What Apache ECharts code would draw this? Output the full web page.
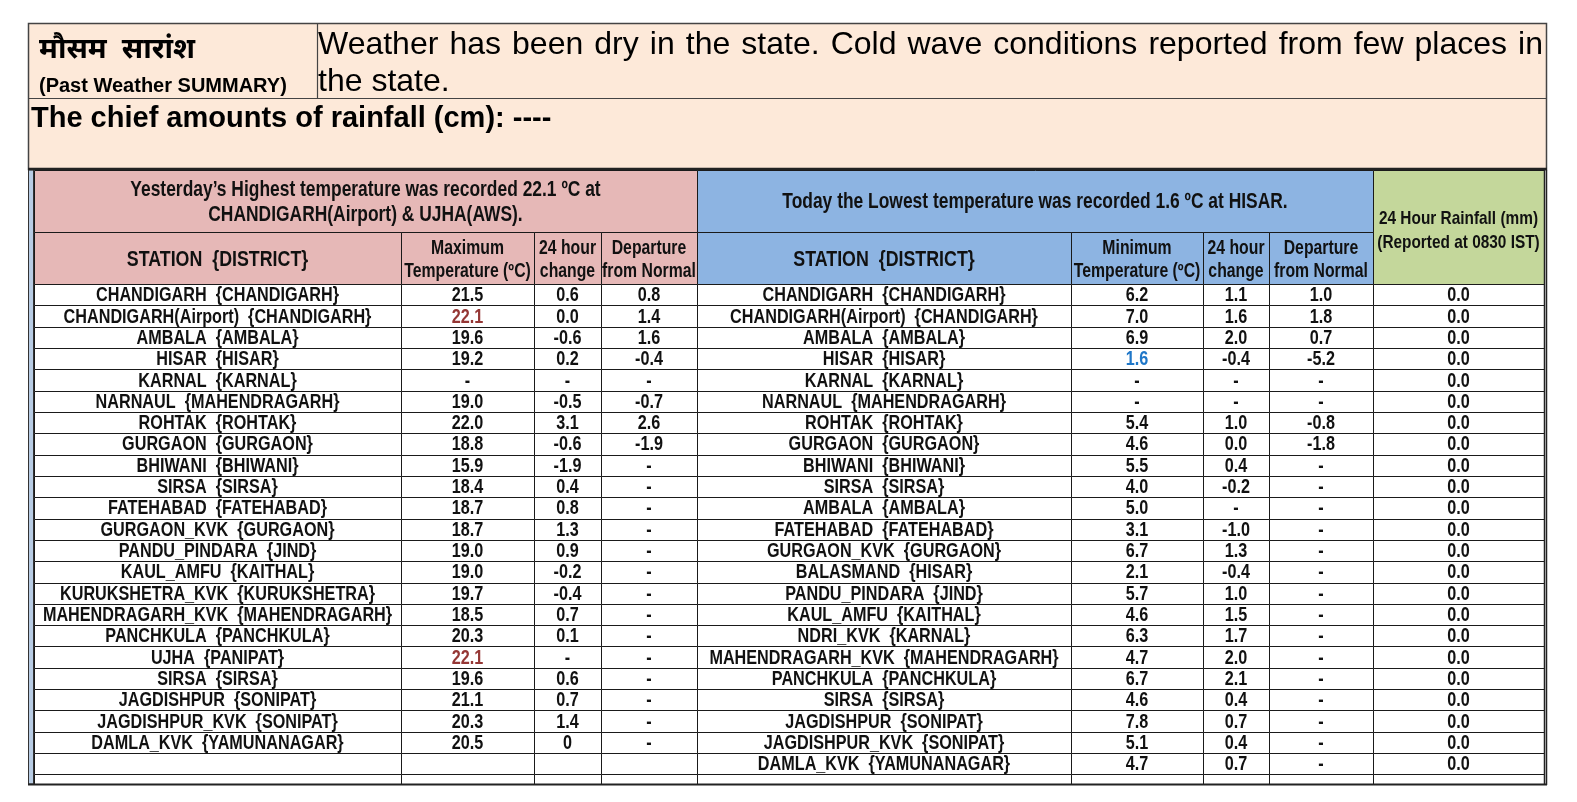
<!DOCTYPE html>
<html>
<head>
<meta charset="utf-8">
<script src="https://cdn.jsdelivr.net/npm/echarts@6/dist/echarts.min.js"></script>
<style>
  html, body { margin: 0; padding: 0; background: #fff; }
  #chart { width: 1577px; height: 802px; }
</style>
</head>
<body>
<div id="chart"></div>
<script>
// ---- data ----
const summaryTitle = 'मौसम  सारांश'
const summarySub = '(Past Weather SUMMARY)'
const summaryLines = [
  'Weather has been dry in the state. Cold wave conditions reported from few places in',
  'the state.'
]
const rainfallNote = 'The chief amounts of rainfall (cm): ----'

const maxTitle = 'Yesterday’s Highest temperature was recorded 22.1 ºC at\nCHANDIGARH(Airport) & UJHA(AWS).'
const minTitle = 'Today the Lowest temperature was recorded 1.6 ºC at HISAR.'
const rainTitle = '24 Hour Rainfall (mm)\n(Reported at 0830 IST)'
const maxHeaders = ['STATION  {DISTRICT}', 'Maximum\nTemperature (ºC)', '24 hour\nchange', 'Departure\nfrom Normal']
const minHeaders = ['STATION  {DISTRICT}', 'Minimum\nTemperature (ºC)', '24 hour\nchange', 'Departure\nfrom Normal']

const maxStations = [
  'CHANDIGARH  {CHANDIGARH}', 'CHANDIGARH(Airport)  {CHANDIGARH}', 'AMBALA  {AMBALA}', 'HISAR  {HISAR}',
  'KARNAL  {KARNAL}', 'NARNAUL  {MAHENDRAGARH}', 'ROHTAK  {ROHTAK}', 'GURGAON  {GURGAON}',
  'BHIWANI  {BHIWANI}', 'SIRSA  {SIRSA}', 'FATEHABAD  {FATEHABAD}', 'GURGAON_KVK  {GURGAON}',
  'PANDU_PINDARA  {JIND}', 'KAUL_AMFU  {KAITHAL}', 'KURUKSHETRA_KVK  {KURUKSHETRA}',
  'MAHENDRAGARH_KVK  {MAHENDRAGARH}', 'PANCHKULA  {PANCHKULA}', 'UJHA  {PANIPAT}', 'SIRSA  {SIRSA}',
  'JAGDISHPUR  {SONIPAT}', 'JAGDISHPUR_KVK  {SONIPAT}', 'DAMLA_KVK  {YAMUNANAGAR}'
]
const maxTemp = ['21.5', '22.1', '19.6', '19.2', '-', '19.0', '22.0', '18.8', '15.9', '18.4', '18.7',
  '18.7', '19.0', '19.0', '19.7', '18.5', '20.3', '22.1', '19.6', '21.1', '20.3', '20.5']
const maxChange = ['0.6', '0.0', '-0.6', '0.2', '-', '-0.5', '3.1', '-0.6', '-1.9', '0.4', '0.8',
  '1.3', '0.9', '-0.2', '-0.4', '0.7', '0.1', '-', '0.6', '0.7', '1.4', '0']
const maxDeparture = ['0.8', '1.4', '1.6', '-0.4', '-', '-0.7', '2.6', '-1.9', '-', '-', '-',
  '-', '-', '-', '-', '-', '-', '-', '-', '-', '-', '-']

const minStations = [
  'CHANDIGARH  {CHANDIGARH}', 'CHANDIGARH(Airport)  {CHANDIGARH}', 'AMBALA  {AMBALA}', 'HISAR  {HISAR}',
  'KARNAL  {KARNAL}', 'NARNAUL  {MAHENDRAGARH}', 'ROHTAK  {ROHTAK}', 'GURGAON  {GURGAON}',
  'BHIWANI  {BHIWANI}', 'SIRSA  {SIRSA}', 'AMBALA  {AMBALA}', 'FATEHABAD  {FATEHABAD}',
  'GURGAON_KVK  {GURGAON}', 'BALASMAND  {HISAR}', 'PANDU_PINDARA  {JIND}', 'KAUL_AMFU  {KAITHAL}',
  'NDRI_KVK  {KARNAL}', 'MAHENDRAGARH_KVK  {MAHENDRAGARH}', 'PANCHKULA  {PANCHKULA}', 'SIRSA  {SIRSA}',
  'JAGDISHPUR  {SONIPAT}', 'JAGDISHPUR_KVK  {SONIPAT}', 'DAMLA_KVK  {YAMUNANAGAR}'
]
const minTemp = ['6.2', '7.0', '6.9', '1.6', '-', '-', '5.4', '4.6', '5.5', '4.0', '5.0', '3.1',
  '6.7', '2.1', '5.7', '4.6', '6.3', '4.7', '6.7', '4.6', '7.8', '5.1', '4.7']
const minChange = ['1.1', '1.6', '2.0', '-0.4', '-', '-', '1.0', '0.0', '0.4', '-0.2', '-', '-1.0',
  '1.3', '-0.4', '1.0', '1.5', '1.7', '2.0', '2.1', '0.4', '0.7', '0.4', '0.7']
const minDeparture = ['1.0', '1.8', '0.7', '-5.2', '-', '-', '-0.8', '-1.8', '-', '-', '-', '-',
  '-', '-', '-', '-', '-', '-', '-', '-', '-', '-', '-']
const rainfall = ['0.0', '0.0', '0.0', '0.0', '0.0', '0.0', '0.0', '0.0', '0.0', '0.0', '0.0', '0.0',
  '0.0', '0.0', '0.0', '0.0', '0.0', '0.0', '0.0', '0.0', '0.0', '0.0', '0.0']

// ---- layout ----
const columns = [maxStations, maxTemp, maxChange, maxDeparture, minStations, minTemp, minChange, minDeparture, rainfall]
const edges = [0, 367, 500, 567, 663, 1037, 1169, 1235, 1339, 1510] // column borders, axis units
const head1 = 2.91 // title row height (row units)
const head2 = 2.44 // header row height
const yTop = -(head1 + head2)
const yEnd = 23.45
const nRows = Math.max(...columns.map(c => c.length))

const PINK = '#E6B8B7'
const BLUE = '#8DB4E2'
const GREEN = '#C4D79B'
const PEACH = '#FDE9D9'
const LINE = '#1a1a1a'
const NARROW = 0.81
const FONT = '"Liberation Sans", Arial, sans-serif'

const nums = a => a.filter(v => v !== '-').map(Number)
const highest = Math.max(...nums(maxTemp))
const lowest = Math.min(...nums(minTemp))

const cellColor = (c, v) => {
  if (c === 1 && Number(v) === highest) return '#953735'
  if (c === 5 && Number(v) === lowest) return '#1F77C8'
  return '#111'
}

const headerCells = [
  { c0: 0, c1: 4, y0: yTop, y1: -head2, fill: PINK, text: maxTitle, size: 21.5, lh: 25, dy: 1.5 },
  { c0: 4, c1: 8, y0: yTop, y1: -head2, fill: BLUE, text: minTitle, size: 21.5, lh: 25, dy: 1.5 },
  { c0: 8, c1: 9, y0: yTop, y1: 0, fill: GREEN, text: rainTitle, size: 19, lh: 24, dy: 3.5 },
  ...maxHeaders.map((t, i) => ({ c0: i, c1: i + 1, y0: -head2, y1: 0, fill: PINK, text: t, size: i ? 19.5 : 22, lh: 23, dy: 2 })),
  ...minHeaders.map((t, i) => ({ c0: i + 4, c1: i + 5, y0: -head2, y1: 0, fill: BLUE, text: t, size: i ? 19.5 : 22, lh: 23, dy: 2 }))
]

const bodyCells = []
for (let r = 0; r <= nRows; r++) {
  for (let c = 0; c < columns.length; c++) bodyCells.push([c, r])
}

const px = v => Math.round(v) + 0.5

const cellShape = (api, c0, c1, y0, y1) => {
  const p0 = api.coord([edges[c0], y0])
  const p1 = api.coord([edges[c1], y1])
  const x = px(p0[0]), y = px(p0[1])
  return { x, y, width: px(p1[0]) - x, height: px(p1[1]) - y, cx: (p0[0] + p1[0]) / 2, cy: (p0[1] + p1[1]) / 2 }
}

// grid rectangles of the body
const renderGrid = (params, api) => {
  const c = api.value(0)
  const r = api.value(1)
  const s = cellShape(api, c, c + 1, r, Math.min(r + 1, yEnd))
  return {
    type: 'rect',
    shape: { x: s.x, y: s.y, width: s.width, height: s.height },
    style: { fill: '#fff', stroke: LINE, lineWidth: 1 }
  }
}

// cell values, drawn above all grid lines
const renderValues = (params, api) => {
  const c = api.value(0)
  const r = api.value(1)
  const v = columns[c][r]
  if (v === undefined) return null
  const s = cellShape(api, c, c + 1, r, r + 1)
  return {
    type: 'text', x: s.cx, y: s.cy + 1, scaleX: NARROW,
    style: { text: v, fill: cellColor(c, v), fontFamily: FONT, fontWeight: 'bold', fontSize: 20, align: 'center', verticalAlign: 'middle' }
  }
}

const renderHead = (params, api) => {
  const h = headerCells[api.value(0)]
  const s = cellShape(api, h.c0, h.c1, h.y0, h.y1)
  return {
    type: 'group',
    children: [
      { type: 'rect', shape: { x: s.x, y: s.y, width: s.width, height: s.height }, style: { fill: h.fill, stroke: LINE, lineWidth: 1 } },
      {
        type: 'text', x: s.cx, y: s.cy + (h.dy || 0), scaleX: NARROW, z2: 10,
        style: { text: h.text, fill: '#111', fontFamily: FONT, fontWeight: 'bold', fontSize: h.size, lineHeight: h.lh, align: 'center', verticalAlign: 'middle' }
      }
    ]
  }
}

// justified first summary line
const SUMMARY_FONT = '32px "Liberation Sans"'
const measure = document.createElement('canvas').getContext('2d')
measure.font = SUMMARY_FONT
const summaryGraphics = []
const lineLeft = 318
const lineRight = 1543
const words = summaryLines[0].split(' ')
const wordWidths = words.map(w => measure.measureText(w).width)
const spaceW = measure.measureText(' ').width
const gap = Math.max(spaceW * 0.7, (lineRight - lineLeft - wordWidths.reduce((a, b) => a + b, 0)) / (words.length - 1))
let wx = lineLeft
words.forEach((w, i) => {
  summaryGraphics.push({ type: 'text', x: wx, y: 45, style: { text: w, fill: '#000', font: SUMMARY_FONT, verticalAlign: 'middle' } })
  wx += wordWidths[i] + gap
})
summaryGraphics.push({ type: 'text', x: lineLeft, y: 82, style: { text: summaryLines[1], fill: '#000', font: SUMMARY_FONT, verticalAlign: 'middle' } })

const myChart = echarts.init(document.getElementById('chart'))
myChart.setOption({
  animation: false,
  backgroundColor: '#fff',
  grid: { left: 34, top: 170, width: 1510, height: 614 },
  xAxis: { type: 'value', min: 0, max: edges[edges.length - 1], show: false },
  yAxis: { type: 'value', min: yTop, max: yEnd, inverse: true, show: false },
  graphic: [
    { type: 'rect', shape: { x: 28.5, y: 23.5, width: 1518, height: 146 }, style: { fill: PEACH, stroke: '#444', lineWidth: 1.5 } },
    { type: 'line', shape: { x1: 28, y1: 98.5, x2: 1547, y2: 98.5 }, style: { stroke: '#444', lineWidth: 1.2 } },
    { type: 'line', shape: { x1: 317.5, y1: 23, x2: 317.5, y2: 99 }, style: { stroke: '#444', lineWidth: 1.2 } },
    { type: 'text', x: 39, y: 50, style: { text: summaryTitle, fill: '#000', font: 'bold 29px "Noto Sans", sans-serif', verticalAlign: 'middle' } },
    { type: 'text', x: 39, y: 86, style: { text: summarySub, fill: '#000', font: 'bold 20px "Liberation Sans"', verticalAlign: 'middle' } },
    ...summaryGraphics,
    { type: 'text', x: 31, y: 119, style: { text: rainfallNote, fill: '#000', font: 'bold 29px "Liberation Sans"', verticalAlign: 'middle' } },
    { type: 'rect', shape: { x: 28.5, y: 170, width: 5, height: 614 }, style: { fill: '#B8CCE4', stroke: '#333', lineWidth: 1 } },
    { type: 'line', shape: { x1: 28, y1: 169, x2: 1547, y2: 169 }, style: { stroke: '#222', lineWidth: 2.5 }, z: 10 },
    { type: 'line', shape: { x1: 1546.5, y1: 170, x2: 1546.5, y2: 785 }, style: { stroke: '#222', lineWidth: 1.5 }, z: 10 },
    { type: 'line', shape: { x1: 1544.5, y1: 170, x2: 1544.5, y2: 785 }, style: { stroke: '#222', lineWidth: 1.5 }, z: 10 },
    { type: 'line', shape: { x1: 28, y1: 784.5, x2: 1547, y2: 784.5 }, style: { stroke: '#222', lineWidth: 2 }, z: 10 }
  ],
  series: [
    {
      type: 'custom',
      name: 'header',
      renderItem: renderHead,
      data: headerCells.map((h, i) => [i, h.y0]),
      encode: { x: -1, y: 1 },
      z: 3
    },
    {
      type: 'custom',
      name: 'grid',
      renderItem: renderGrid,
      data: bodyCells,
      encode: { x: 0, y: 1 },
      z: 2
    },
    {
      type: 'custom',
      name: 'values',
      renderItem: renderValues,
      data: bodyCells,
      encode: { x: 0, y: 1 },
      z: 4
    }
  ]
})

window.addEventListener('resize', () => {
  myChart.resize()
})
</script>
</body>
</html>
